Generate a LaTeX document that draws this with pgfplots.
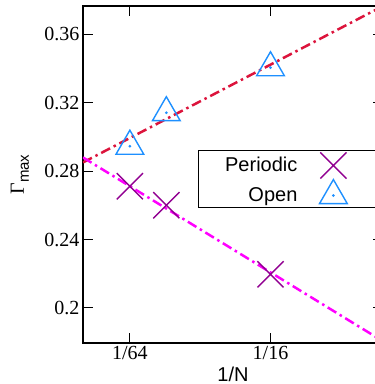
\documentclass[border=0pt]{standalone}
\usepackage{fontspec}
\setmainfont{Liberation Serif}
\setsansfont{Liberation Sans}
\usepackage{pgfplots}
\pgfplotsset{compat=1.18}
\definecolor{perX}{RGB}{145,0,145}
\definecolor{openT}{RGB}{30,144,255}
\definecolor{openL}{RGB}{220,20,60}
\definecolor{perL}{RGB}{255,0,255}
\pgfdeclareplotmark{tridot}{%
  \pgfpathmoveto{\pgfqpoint{0pt}{\pgfplotmarksize}}%
  \pgfpathlineto{\pgfqpointpolar{-150}{\pgfplotmarksize}}%
  \pgfpathlineto{\pgfqpointpolar{-30}{\pgfplotmarksize}}%
  \pgfpathclose
  \pgfusepathqstroke
  \pgfpathcircle{\pgfpointorigin}{0.5pt}%
  \pgfusepathqfillstroke
}
\begin{document}
\begin{tikzpicture}
\begin{scope}
\clip (-83pt,-41pt) rectangle (292pt,343pt);
\begin{axis}[
  at={(0,0)}, anchor=south west,
  scale only axis, width=300pt, height=337pt,
  xmin=0, xmax=0.1, ymin=0.1795, ymax=0.3766,
  xtick={0.015625,0.0625}, xticklabels={1/64,1/16},
  ytick={0.2,0.24,0.28,0.32,0.36}, yticklabels={0.2,0.24,0.28,0.32,0.36},
  tick align=inside, major tick length=10pt,
  axis line style={line width=1.3pt},
  every tick/.style={black, line width=1pt},
  tick label style={font=\fontsize{20}{24}\selectfont},
  /pgf/number format/assume math mode=true,
  xlabel={\sffamily 1/N},
  xlabel style={font=\fontsize{20}{24}\selectfont, at={(axis description cs:0.5,-0.092)}, anchor=center},
  ylabel={Γ\raisebox{-0.25em}{\fontsize{15}{15}\selectfont\sffamily max}},
  ylabel style={font=\fontsize{20}{24}\selectfont, at={(axis description cs:-0.21,0.5)}, anchor=center},
  legend style={at={(axis description cs:0.383,0.573)}, anchor=north west,
    draw=black, line width=1pt, inner sep=2pt,
    font=\fontsize{20}{24}\selectfont\sffamily,
    column sep=0pt, row sep=1pt},
  legend plot pos=right,
  legend cell align=right,
  legend image code/.code={\path[draw=none,fill=none] (0pt,-8pt) rectangle (80pt,8pt); \draw plot coordinates {(34pt,0pt)};},
]
\addplot[only marks, mark=x, mark size=18.5pt, color=perX, line width=1.4pt]
  coordinates {(0.015625,0.2712) (0.027778,0.2601) (0.0625,0.2197)};
\addlegendentry{\makebox[95pt][r]{Periodic}}
\addplot[only marks, mark=tridot, mark size=16pt, color=openT, fill=openT, line width=1.4pt]
  coordinates {(0.015625,0.2946) (0.027778,0.3142) (0.0625,0.3405)};
\addlegendentry{\makebox[95pt][r]{Open}}
\addplot[forget plot, color=openL, line width=2.5pt, dash pattern=on 10pt off 4pt on 2.5pt off 4pt]
  coordinates {(0,0.2851) (0.1,0.3766)};
\addplot[forget plot, color=perL, line width=2.5pt, dash pattern=on 10pt off 4pt on 2.5pt off 4pt]
  coordinates {(0,0.2880) (0.1,0.1805)};
\end{axis}
\end{scope}
\pgfresetboundingbox
\useasboundingbox (-83pt,-41pt) rectangle (292pt,343pt);
\end{tikzpicture}
\end{document}
